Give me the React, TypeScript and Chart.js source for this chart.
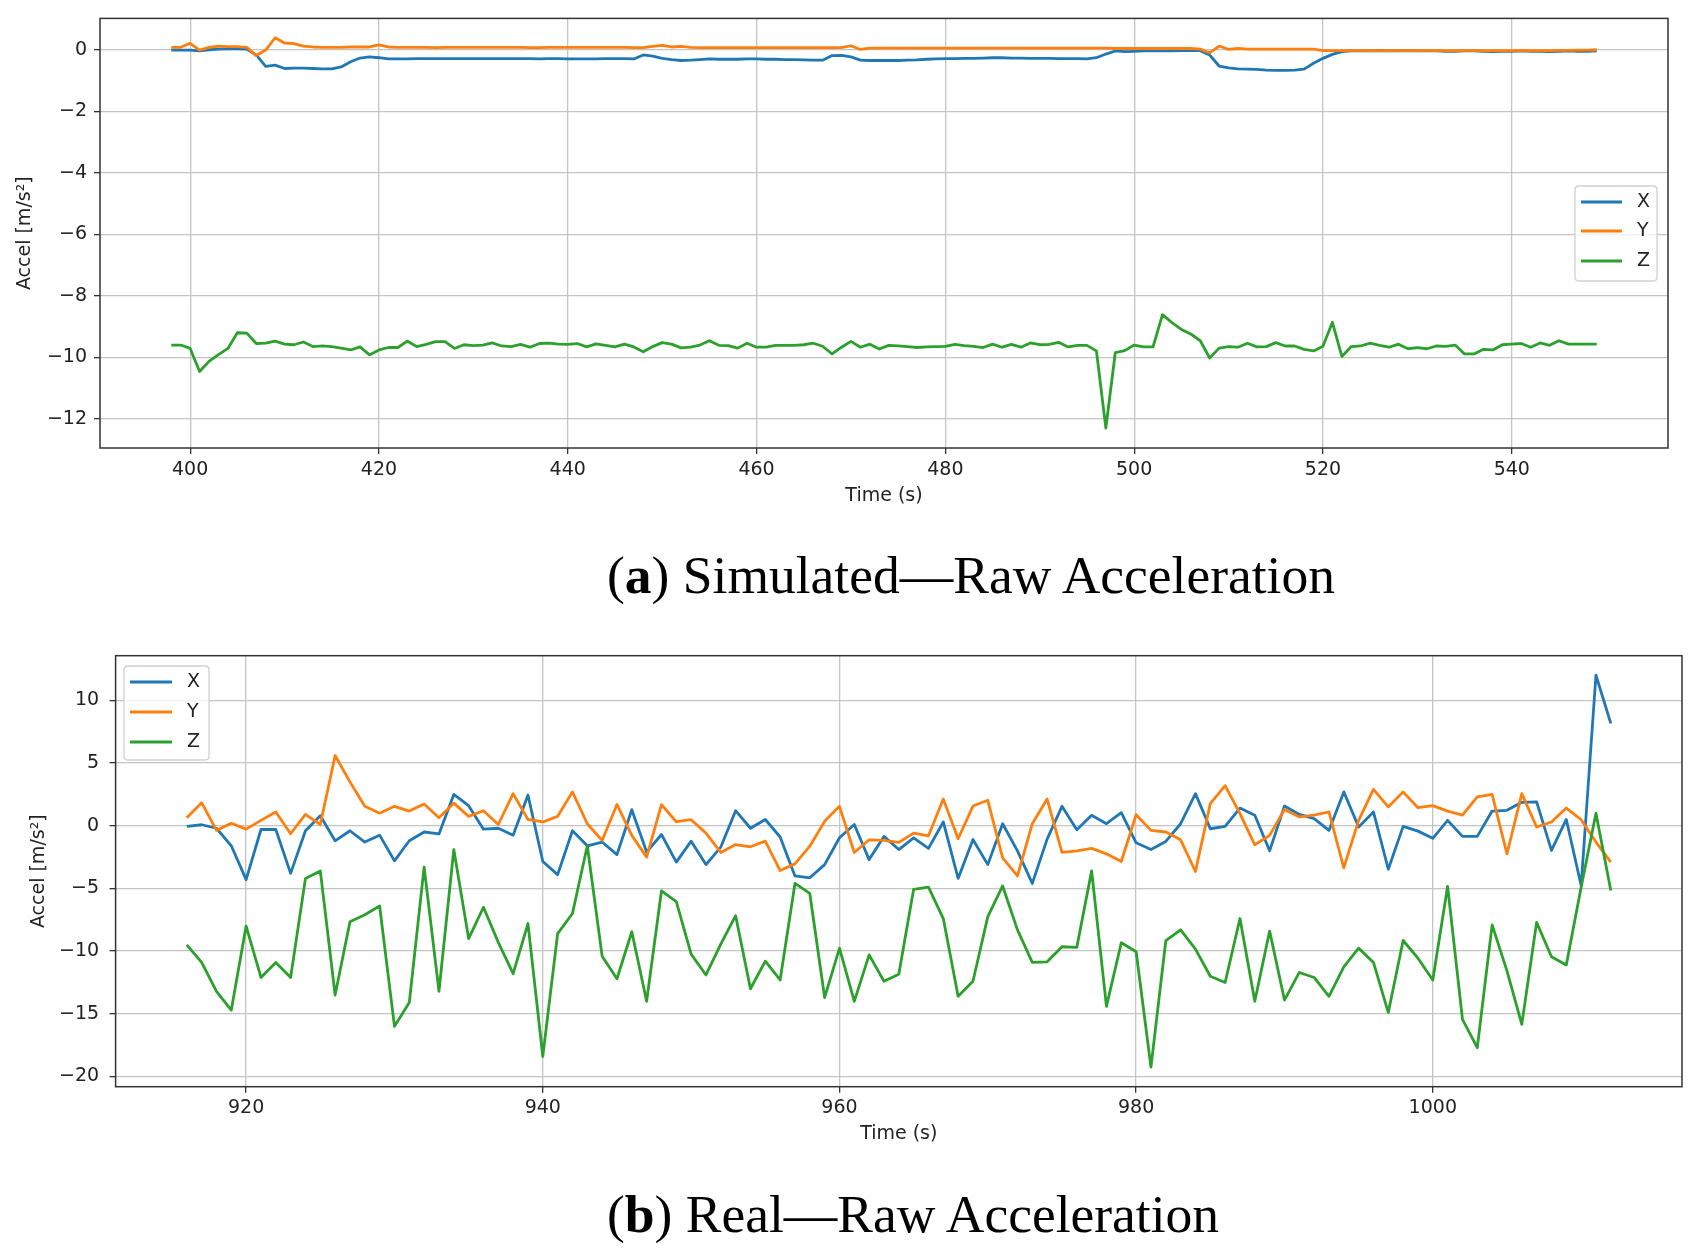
import { useEffect, useRef } from 'react';
import { Chart, registerables } from 'chart.js';

Chart.register(...registerables);

// ---- (a) Simulated: time stamps and raw accel per axis ----
const timeA = [
  398, 399, 400, 401, 402, 403, 404, 405, 406, 407, 408, 409, 410, 411, 412, 413, 414, 415, 416, 417,
  418, 419, 420, 421, 422, 423, 424, 425, 426, 427, 428, 429, 430, 431, 432, 433, 434, 435, 436, 437,
  438, 439, 440, 441, 442, 443, 444, 445, 446, 447, 448, 449, 450, 451, 452, 453, 454, 455, 456, 457,
  458, 459, 460, 461, 462, 463, 464, 465, 466, 467, 468, 469, 470, 471, 472, 473, 474, 475, 476, 477,
  478, 479, 480, 481, 482, 483, 484, 485, 486, 487, 488, 489, 490, 491, 492, 493, 494, 495, 496, 497,
  498, 499, 500, 501, 502, 503, 504, 505, 506, 507, 508, 509, 510, 511, 512, 513, 514, 515, 516, 517,
  518, 519, 520, 521, 522, 523, 524, 525, 526, 527, 528, 529, 530, 531, 532, 533, 534, 535, 536, 537,
  538, 539, 540, 541, 542, 543, 544, 545, 546, 547, 548, 549,
];

const simX = [
  0, 0, 0, -0.03, 0.01, 0.03, 0.04, 0.04, 0.03, -0.16, -0.53, -0.49, -0.6, -0.59, -0.59, -0.6, -0.61, -0.61, -0.55, -0.38,
  -0.26, -0.22, -0.25, -0.29, -0.29, -0.29, -0.28, -0.28, -0.28, -0.28, -0.28, -0.28, -0.28, -0.28, -0.28, -0.28, -0.28, -0.28, -0.28, -0.29,
  -0.28, -0.28, -0.29, -0.29, -0.29, -0.29, -0.28, -0.28, -0.28, -0.29, -0.16, -0.2, -0.27, -0.31, -0.34, -0.33, -0.31, -0.29, -0.3, -0.3,
  -0.3, -0.29, -0.29, -0.3, -0.3, -0.31, -0.31, -0.32, -0.33, -0.33, -0.18, -0.17, -0.22, -0.33, -0.34, -0.34, -0.34, -0.34, -0.33, -0.32,
  -0.3, -0.29, -0.28, -0.28, -0.27, -0.27, -0.26, -0.25, -0.25, -0.26, -0.26, -0.27, -0.27, -0.27, -0.28, -0.28, -0.28, -0.29, -0.25, -0.13,
  -0.03, -0.05, -0.04, -0.03, -0.03, -0.03, -0.03, -0.02, -0.02, -0.02, -0.16, -0.52, -0.58, -0.61, -0.62, -0.63, -0.65, -0.66, -0.66, -0.65,
  -0.62, -0.43, -0.27, -0.14, -0.05, -0.03, -0.03, -0.03, -0.02, -0.03, -0.03, -0.02, -0.03, -0.03, -0.03, -0.04, -0.04, -0.03, -0.03, -0.04,
  -0.05, -0.04, -0.04, -0.03, -0.04, -0.04, -0.05, -0.04, -0.03, -0.04, -0.04, -0.03,
];

const simY = [
  0.09, 0.09, 0.22, 0.0, 0.09, 0.13, 0.11, 0.11, 0.09, -0.18, 0.0, 0.4, 0.23, 0.21, 0.13, 0.1, 0.09, 0.09, 0.09, 0.1,
  0.1, 0.1, 0.17, 0.1, 0.09, 0.09, 0.09, 0.09, 0.08, 0.09, 0.09, 0.09, 0.09, 0.09, 0.09, 0.09, 0.09, 0.09, 0.08, 0.08,
  0.09, 0.09, 0.09, 0.09, 0.09, 0.09, 0.09, 0.09, 0.09, 0.08, 0.08, 0.12, 0.15, 0.1, 0.12, 0.09, 0.08, 0.08, 0.08, 0.08,
  0.08, 0.08, 0.08, 0.08, 0.08, 0.08, 0.08, 0.08, 0.08, 0.08, 0.08, 0.08, 0.14, 0.02, 0.06, 0.06, 0.06, 0.06, 0.06, 0.06,
  0.06, 0.06, 0.06, 0.06, 0.06, 0.06, 0.06, 0.06, 0.06, 0.06, 0.06, 0.06, 0.06, 0.06, 0.06, 0.06, 0.06, 0.06, 0.06, 0.06,
  0.05, 0.05, 0.05, 0.05, 0.05, 0.05, 0.05, 0.05, 0.05, 0.03, -0.09, 0.13, 0.02, 0.05, 0.03, 0.03, 0.03, 0.03, 0.03, 0.03,
  0.03, 0.03, -0.02, -0.02, -0.02, -0.02, -0.02, -0.02, -0.02, -0.02, -0.02, -0.02, -0.02, -0.02, -0.02, -0.02, -0.02, -0.02, -0.02, -0.02,
  -0.02, -0.02, -0.02, -0.02, -0.02, -0.02, -0.02, -0.01, -0.01, 0.0, 0.0, 0.01,
];

const simZ = [
  -9.6, -9.6, -9.71, -10.46, -10.13, -9.91, -9.71, -9.2, -9.21, -9.55, -9.54, -9.47, -9.57, -9.59, -9.5, -9.65, -9.63, -9.65, -9.7, -9.76,
  -9.66, -9.92, -9.76, -9.68, -9.68, -9.47, -9.65, -9.58, -9.49, -9.49, -9.71, -9.59, -9.62, -9.6, -9.53, -9.63, -9.65, -9.58, -9.67, -9.55,
  -9.54, -9.57, -9.58, -9.55, -9.66, -9.56, -9.61, -9.66, -9.57, -9.66, -9.82, -9.65, -9.52, -9.57, -9.69, -9.67, -9.6, -9.46, -9.61, -9.62,
  -9.7, -9.54, -9.67, -9.67, -9.61, -9.61, -9.61, -9.59, -9.54, -9.64, -9.89, -9.67, -9.48, -9.67, -9.57, -9.73, -9.61, -9.63, -9.65, -9.68,
  -9.66, -9.65, -9.64, -9.58, -9.62, -9.64, -9.68, -9.57, -9.67, -9.58, -9.67, -9.53, -9.59, -9.58, -9.51, -9.66, -9.61, -9.61, -9.79, -12.3,
  -9.85, -9.78, -9.6, -9.66, -9.66, -8.61, -8.87, -9.09, -9.24, -9.46, -10.02, -9.7, -9.65, -9.67, -9.54, -9.66, -9.65, -9.52, -9.63, -9.63,
  -9.74, -9.79, -9.64, -8.86, -9.97, -9.65, -9.63, -9.54, -9.61, -9.67, -9.57, -9.72, -9.68, -9.72, -9.63, -9.64, -9.6, -9.89, -9.89, -9.74,
  -9.76, -9.59, -9.57, -9.55, -9.67, -9.53, -9.61, -9.46, -9.57, -9.57, -9.57, -9.57,
];

const xTicksA = [400, 420, 440, 460, 480, 500, 520, 540];
const yTicksA = [-12, -10, -8, -6, -4, -2, 0];

// ---- (b) Real: time stamps and raw accel per axis ----
const timeB = [
  916, 917, 918, 919, 920, 921, 922, 923, 924, 925, 926, 927, 928, 929, 930, 931, 932, 933, 934, 935,
  936, 937, 938, 939, 940, 941, 942, 943, 944, 945, 946, 947, 948, 949, 950, 951, 952, 953, 954, 955,
  956, 957, 958, 959, 960, 961, 962, 963, 964, 965, 966, 967, 968, 969, 970, 971, 972, 973, 974, 975,
  976, 977, 978, 979, 980, 981, 982, 983, 984, 985, 986, 987, 988, 989, 990, 991, 992, 993, 994, 995,
  996, 997, 998, 999, 1000, 1001, 1002, 1003, 1004, 1005, 1006, 1007, 1008, 1009, 1010, 1011, 1012,
];

const realX = [
  -0.05, 0.08, -0.2, -1.6, -4.3, -0.3, -0.3, -3.8, -0.4, 0.8, -1.2, -0.4, -1.3, -0.75, -2.8, -1.2, -0.5, -0.65, 2.5, 1.6,
  -0.27, -0.2, -0.75, 2.45, -2.85, -3.9, -0.4, -1.6, -1.3, -2.3, 1.28, -2.1, -0.7, -2.9, -1.23, -3.1, -1.7, 1.2, -0.2, 0.5,
  -0.9, -4.0, -4.15, -3.1, -0.96, 0.1, -2.7, -0.85, -1.9, -0.96, -1.8, 0.3, -4.2, -1.1, -3.1, 0.16, -2.0, -4.6, -1.07, 1.55,
  -0.32, 0.83, 0.16, 1.04, -1.36, -1.9, -1.25, 0.16, 2.56, -0.24, -0.05, 1.41, 0.83, -2.0, 1.57, 0.9, 0.56, -0.37, 2.7, -0.1,
  1.1, -3.47, -0.05, -0.43, -1.0, 0.43, -0.85, -0.85, 1.17, 1.23, 1.87, 1.9, -1.97, 0.5, -4.77, 12.0, 8.16,
];

const realY = [
  0.64, 1.84, -0.37, 0.2, -0.27, 0.43, 1.1, -0.64, 0.9, 0.1, 5.6, 3.5, 1.55, 1.0, 1.55, 1.17, 1.73, 0.64, 1.8, 0.75,
  1.2, 0.1, 2.56, 0.5, 0.3, 0.75, 2.7, 0.16, -1.17, 1.7, -0.77, -2.5, 1.68, 0.32, 0.48, -0.59, -2.13, -1.5, -1.68, -1.23,
  -3.57, -3.04, -1.63, 0.35, 1.55, -2.13, -1.12, -1.17, -1.33, -0.59, -0.8, 2.13, -1.04, 1.57, 2.03, -2.56, -4.0, 0.16, 2.13, -2.13,
  -2.0, -1.8, -2.24, -2.85, 0.88, -0.37, -0.5, -1.12, -3.65, 1.76, 3.2, 0.96, -1.52, -0.77, 1.3, 0.7, 0.85, 1.1, -3.36, 0.43,
  2.9, 1.5, 2.7, 1.44, 1.6, 1.17, 0.85, 2.3, 2.5, -2.24, 2.56, -0.1, 0.3, 1.41, 0.48, -1.3, -2.9,
];

const realZ = [
  -9.5, -10.9, -13.2, -14.7, -8.0, -12.1, -10.9, -12.1, -4.2, -3.6, -13.5, -7.65, -7.1, -6.4, -16.0, -14.1, -3.3, -13.2, -1.9, -9.0,
  -6.5, -9.3, -11.8, -7.8, -18.4, -8.6, -7.0, -1.6, -10.4, -12.2, -8.45, -14.0, -5.2, -6.05, -10.24, -11.9, -9.44, -7.17, -13.0, -10.8,
  -12.3, -4.6, -5.4, -13.7, -9.76, -14.0, -10.3, -12.4, -11.84, -5.07, -4.9, -7.4, -13.6, -12.4, -7.25, -4.8, -8.3, -10.9, -10.85, -9.65,
  -9.7, -3.6, -14.4, -9.33, -10.05, -19.25, -9.17, -8.3, -9.84, -12.0, -12.5, -7.4, -14.0, -8.4, -13.9, -11.7, -12.1, -13.6, -11.25, -9.76,
  -10.9, -14.9, -9.15, -10.56, -12.3, -4.83, -15.44, -17.7, -7.9, -11.57, -15.84, -7.7, -10.45, -11.1, -4.9, 1.0, -5.17,
];

const xTicksB = [920, 940, 960, 980, 1000];
const yTicksB = [-20, -15, -10, -5, 0, 5, 10];

const axisLabels = ['X', 'Y', 'Z'];
const colors = ['#1f77b4', '#ff7f0e', '#2ca02c'];

const FONT = 'DejaVu Sans';
const FONT_SIZE = 19;
const INK = '#222222';

// box around the plot area, drawn over the lines like matplotlib spines
const framePlugin = {
  id: 'frame',
  afterDatasetsDraw(chart: any) {
    const { ctx, chartArea: a } = chart;
    ctx.save();
    ctx.strokeStyle = '#333333';
    ctx.lineWidth = 1.5;
    ctx.strokeRect(a.left, a.top, a.right - a.left, a.bottom - a.top);
    ctx.restore();
  },
};

// matplotlib-like legend box inside the axes
const boxLegendPlugin = {
  id: 'boxLegend',
  afterDraw(chart: any, _args: any, opts: any) {
    const { ctx } = chart;
    const { left, top, width, height, handleX, handleLen, textX, rows } = opts;
    ctx.save();
    const r = 4;
    ctx.beginPath();
    ctx.moveTo(left + r, top);
    ctx.lineTo(left + width - r, top);
    ctx.quadraticCurveTo(left + width, top, left + width, top + r);
    ctx.lineTo(left + width, top + height - r);
    ctx.quadraticCurveTo(left + width, top + height, left + width - r, top + height);
    ctx.lineTo(left + r, top + height);
    ctx.quadraticCurveTo(left, top + height, left, top + height - r);
    ctx.lineTo(left, top + r);
    ctx.quadraticCurveTo(left, top, left + r, top);
    ctx.closePath();
    ctx.fillStyle = 'rgba(255,255,255,0.8)';
    ctx.fill();
    ctx.strokeStyle = '#d0d0d0';
    ctx.lineWidth = 1.3;
    ctx.stroke();
    ctx.font = `${FONT_SIZE}px "${FONT}"`;
    ctx.textBaseline = 'middle';
    ctx.textAlign = 'left';
    chart.data.datasets.forEach((ds: any, i: number) => {
      const y = rows[i];
      ctx.strokeStyle = ds.borderColor;
      ctx.lineWidth = 2.8;
      ctx.beginPath();
      ctx.moveTo(handleX, y);
      ctx.lineTo(handleX + handleLen, y);
      ctx.stroke();
      ctx.fillStyle = INK;
      ctx.fillText(ds.label, textX, y);
    });
    ctx.restore();
  },
};

const fmt = (v: number) => String(v).replace('-', '\u2212');

interface PanelProps {
  times: number[];
  series: number[][];
  xTicks: number[];
  yTicks: number[];
  xMin: number;
  xMax: number;
  yMin: number;
  yMax: number;
  width: number;
  height: number;
  yAxisWidth: number;
  xAxisHeight: number;
  padTop: number;
  padRight: number;
  yTickPad: number;
  xTitlePad: number;
  yTitlePad: number;
  legend: any;
}

function AccelPanel(p: PanelProps) {
  const canvasRef = useRef<HTMLCanvasElement>(null);

  useEffect(() => {
    if (!canvasRef.current) return;
    const datasets = p.series.map((vals, i) => ({
      label: axisLabels[i],
      data: p.times.map((t, j) => ({ x: t, y: vals[j] })),
      borderColor: colors[i],
      backgroundColor: colors[i],
      borderWidth: 2.8,
      borderJoinStyle: 'round' as const,
      pointRadius: 0,
      tension: 0,
      fill: false,
      order: 3 - i,
    }));

    const chart = new Chart(canvasRef.current, {
      type: 'line',
      data: { datasets },
      options: {
        animation: false,
        responsive: false,
        events: [],
        layout: { padding: { left: 0, top: p.padTop, right: p.padRight, bottom: 0 } },
        plugins: {
          legend: { display: false },
          tooltip: { enabled: false },
          boxLegend: p.legend,
        } as any,
        scales: {
          x: {
            type: 'linear',
            min: p.xMin,
            max: p.xMax,
            afterBuildTicks: (scale: any) => {
              scale.ticks = p.xTicks.map((v) => ({ value: v }));
            },
            afterFit: (scale: any) => {
              scale.height = p.xAxisHeight;
            },
            grid: { color: '#c4c4c4', lineWidth: 1.3, tickColor: '#333333', tickLength: 6, tickWidth: 1.3 },
            border: { display: false },
            ticks: {
              padding: 4.4,
              maxRotation: 0,
              color: INK,
              font: { family: FONT, size: FONT_SIZE },
              callback: (v: any) => fmt(v),
            },
            title: {
              display: true,
              text: 'Time (s)',
              color: INK,
              font: { family: FONT, size: FONT_SIZE },
              padding: { top: 0, bottom: p.xTitlePad },
            },
          },
          y: {
            type: 'linear',
            min: p.yMin,
            max: p.yMax,
            afterBuildTicks: (scale: any) => {
              scale.ticks = p.yTicks.map((v) => ({ value: v }));
            },
            afterFit: (scale: any) => {
              scale.width = p.yAxisWidth;
            },
            grid: { color: '#c4c4c4', lineWidth: 1.3, tickColor: '#333333', tickLength: 6, tickWidth: 1.3 },
            border: { display: false },
            ticks: {
              padding: p.yTickPad,
              color: INK,
              font: { family: FONT, size: FONT_SIZE },
              callback: (v: any) => fmt(v),
            },
            title: {
              display: true,
              text: 'Accel [m/s²]',
              color: INK,
              font: { family: FONT, size: FONT_SIZE },
              padding: { top: p.yTitlePad, bottom: 0 },
            },
          },
        },
      },
      plugins: [framePlugin, boxLegendPlugin],
    });

    return () => {
      chart.destroy();
    };
  }, []);

  return <canvas ref={canvasRef} width={p.width} height={p.height} style={{ display: 'block' }} />;
}

const captionStyle: React.CSSProperties = {
  position: 'absolute',
  left: 607,
  fontFamily: '"Liberation Serif", serif',
  fontSize: 53.5,
  lineHeight: '55px',
  whiteSpace: 'nowrap',
  color: '#000',
};

export default function App() {
  return (
    <div
      style={{
        position: 'fixed',
        left: 0,
        top: 0,
        width: 1699,
        height: 1255,
        background: '#fff',
        overflow: 'hidden',
      }}
    >
      <div style={{ position: 'absolute', left: 0, top: 0 }}>
        <AccelPanel
          times={timeA}
          series={[simX, simY, simZ]}
          xTicks={xTicksA}
          yTicks={yTicksA}
          xMin={390.45}
          xMax={556.55}
          yMin={-12.95}
          yMax={1.03}
          width={1699}
          height={520}
          yAxisWidth={100}
          xAxisHeight={72}
          padTop={17}
          padRight={31}
          yTickPad={7}
          xTitlePad={12.4}
          yTitlePad={13.9}
          legend={{
            left: 1575,
            top: 186,
            width: 82,
            height: 95,
            handleX: 1581,
            handleLen: 41,
            textX: 1637,
            rows: [202, 231, 261],
          }}
        />
      </div>
      <div style={{ ...captionStyle, top: 548 }}>
        (<b>a</b>) Simulated—Raw Acceleration
      </div>
      <div style={{ position: 'absolute', left: 0, top: 600 }}>
        <AccelPanel
          times={timeB}
          series={[realX, realY, realZ]}
          xTicks={xTicksB}
          yTicks={yTicksB}
          xMin={911.2}
          xMax={1016.8}
          yMin={-20.81}
          yMax={13.56}
          width={1699}
          height={560}
          yAxisWidth={115.6}
          xAxisHeight={73.3}
          padTop={55.7}
          padRight={17}
          yTickPad={10.5}
          xTitlePad={14.1}
          yTitlePad={27.8}
          legend={{
            left: 124,
            top: 66,
            width: 85,
            height: 94,
            handleX: 130,
            handleLen: 42,
            textX: 187,
            rows: [82, 112, 142],
          }}
        />
      </div>
      <div style={{ ...captionStyle, top: 1187 }}>
        (<b>b</b>) Real—Raw Acceleration
      </div>
    </div>
  );
}
